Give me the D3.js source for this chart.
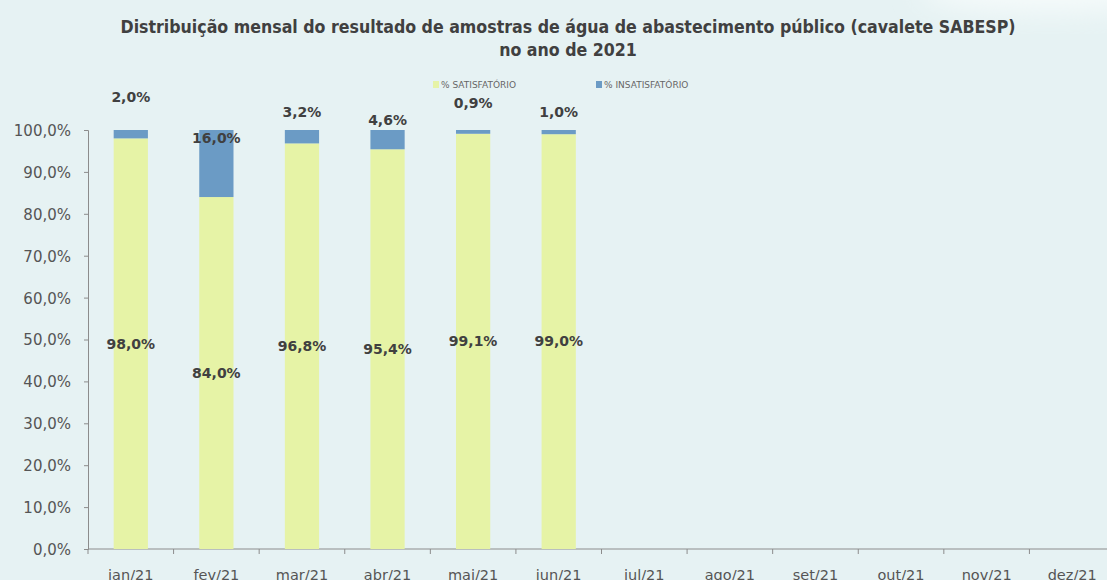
<!DOCTYPE html>
<html>
<head>
<meta charset="utf-8">
<script src="https://cdn.jsdelivr.net/npm/d3@7"></script>
<style>
  html, body { margin: 0; padding: 0; background: #e6f2f3; }
  svg { display: block; }
</style>
</head>
<body>
<div id="chart"></div>
<script>
// dados do gráfico
const months = ['jan/21','fev/21','mar/21','abr/21','mai/21','jun/21','jul/21','ago/21','set/21','out/21','nov/21','dez/21']
const satisfatorio = [98.0, 84.0, 96.8, 95.4, 99.1, 99.0]
const insatisfatorio = [2.0, 16.0, 3.2, 4.6, 0.9, 1.0]
const yTicks = [0, 10, 20, 30, 40, 50, 60, 70, 80, 90, 100]
const seriesNames = ['% SATISFATÓRIO', '% INSATISFATÓRIO']

// posição (y em %) dos rótulos de insatisfatório, como no Excel
const insLabelAt = [107.9, 98.1, 104.3, 102.4, 106.4, 104.3]

const W = 1107, H = 580
const colors = ['#e6f3a6', '#6b9bc5']
const txt = '#404040'

const svg = d3.select('#chart').append('svg')
  .attr('width', W).attr('height', H)

// fundo + brilho no canto superior direito
const defs = svg.append('defs')
const f = defs.append('filter').attr('id', 'blur').attr('x', '-50%').attr('y', '-50%').attr('width', '200%').attr('height', '200%')
f.append('feGaussianBlur').attr('stdDeviation', 14)
svg.append('rect').attr('width', W).attr('height', H).attr('fill', '#e6f2f3')
svg.append('ellipse').attr('cx', 1050).attr('cy', -10).attr('rx', 130).attr('ry', 22)
  .attr('fill', '#f6fbfb').attr('filter', 'url(#blur)')

// título
const title = svg.append('text')
  .attr('x', 568).attr('text-anchor', 'middle')
  .style('font-family', '"Liberation Sans Narrow", "DejaVu Sans Condensed", sans-serif')
  .style('font-weight', 'bold').style('font-size', '17.6px')
  .attr('fill', txt)
title.append('tspan').attr('x', 568).attr('y', 33)
  .text('Distribuição mensal do resultado de amostras de água de abastecimento público (cavalete SABESP)')
title.append('tspan').attr('x', 568).attr('y', 56).text('no ano de 2021')

const x = d3.scaleBand().domain(months).range([88, 1115]).paddingInner(0.6).paddingOuter(0.3)
const xb = d3.scaleBand().domain(months).range([88, 1115])
const y = d3.scaleLinear().domain([0, 100]).range([549, 130])

// eixo y
const yAxis = svg.append('g').attr('transform', 'translate(88,0)')
  .call(d3.axisLeft(y).tickValues(yTicks).tickSize(4).tickPadding(13)
    .tickFormat(d => d.toFixed(1).replace('.', ',') + '%'))
yAxis.selectAll('path, line').attr('stroke', '#8c8c8c')
yAxis.selectAll('text').attr('fill', '#555')
  .style('font-family', '"DejaVu Sans", Verdana, sans-serif').style('font-size', '15px')
  .attr('dy', '0.36em')

// eixo x
const xg = svg.append('g').attr('transform', 'translate(0,549)')
xg.append('line').attr('x1', 88).attr('x2', W).attr('stroke', '#8c8c8c')
xg.selectAll('line.tk').data(months).join('line').attr('class', 'tk')
  .attr('x1', d => xb(d)).attr('x2', d => xb(d)).attr('y1', 0).attr('y2', 5)
  .attr('stroke', '#8c8c8c')
xg.selectAll('text').data(months).join('text')
  .attr('x', d => xb(d) + xb.bandwidth() / 2).attr('y', 31)
  .attr('text-anchor', 'middle').attr('fill', '#555')
  .style('font-family', '"DejaVu Sans", Verdana, sans-serif').style('font-size', '14.5px')
  .text(d => d)

// barras empilhadas
const rows = satisfatorio.map((s, i) => ({ m: months[i], s: s, ins: insatisfatorio[i], la: insLabelAt[i] }))
const bars = svg.append('g')
bars.selectAll('rect.sat').data(rows).join('rect').attr('class', 'sat')
  .attr('x', d => x(d.m)).attr('width', x.bandwidth())
  .attr('y', d => y(d.s)).attr('height', d => y(0) - y(d.s))
  .attr('fill', colors[0])
bars.selectAll('rect.ins').data(rows).join('rect').attr('class', 'ins')
  .attr('x', d => x(d.m)).attr('width', x.bandwidth())
  .attr('y', d => y(d.s + d.ins)).attr('height', d => y(d.s) - y(d.s + d.ins))
  .attr('fill', colors[1])

// rótulos
const fmt = v => v.toFixed(1).replace('.', ',') + '%'
const lab = svg.append('g')
  .style('font-family', '"DejaVu Sans", Verdana, sans-serif')
  .style('font-weight', 'bold').style('font-size', '14px')
  .attr('fill', txt).attr('text-anchor', 'middle')
lab.selectAll('text.sat').data(rows).join('text').attr('class', 'sat')
  .attr('x', d => x(d.m) + x.bandwidth() / 2).attr('y', d => y(d.s / 2)).attr('dy', '0.35em')
  .text(d => fmt(d.s))
lab.selectAll('text.ins').data(rows).join('text').attr('class', 'ins')
  .attr('x', d => x(d.m) + x.bandwidth() / 2).attr('y', d => y(d.la)).attr('dy', '0.35em')
  .text(d => fmt(d.ins))

// legenda
const leg = svg.append('g').attr('transform', 'translate(433,85)')
  .selectAll('g').data(seriesNames).join('g')
  .attr('transform', (d, i) => `translate(${i * 163},0)`)
leg.append('rect').attr('x', 0).attr('y', -4).attr('width', 6).attr('height', 7)
  .attr('fill', (d, i) => colors[i])
leg.append('text').attr('x', 8).attr('y', 0).attr('dy', '0.35em')
  .attr('fill', '#666')
  .style('font-family', '"DejaVu Sans", Verdana, sans-serif').style('font-size', '9px')
  .text(d => d)
</script>
</body>
</html>
